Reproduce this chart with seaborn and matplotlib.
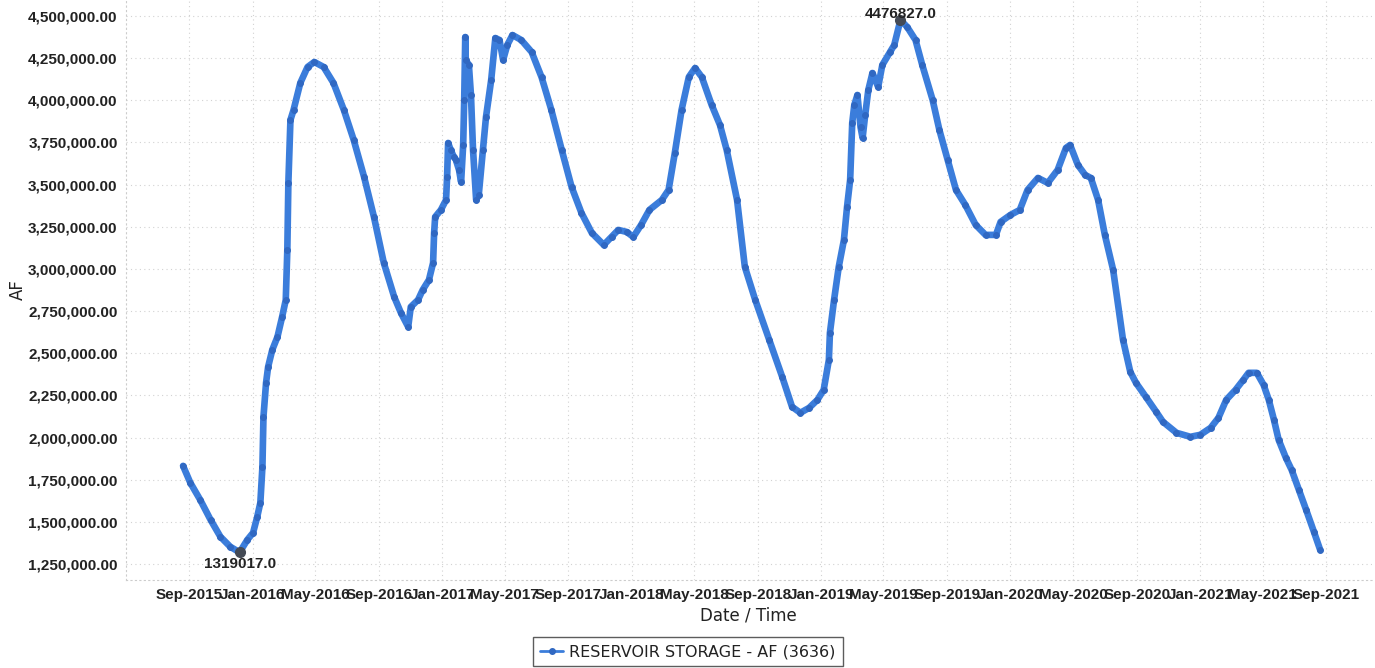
import matplotlib
matplotlib.use("Agg")
import matplotlib.pyplot as plt
import matplotlib.ticker as mticker
import matplotlib.transforms as mtransforms
from matplotlib.lines import Line2D
import seaborn as sns
import pandas as pd

# ---------------- data ----------------
dates = [
    "2015-08-20", "2015-09-03", "2015-09-22", "2015-10-12", "2015-10-31", "2015-11-19",
    "2015-12-07", "2015-12-22", "2016-01-02", "2016-01-10", "2016-01-16", "2016-01-20",
    "2016-01-22", "2016-01-27", "2016-01-31", "2016-02-08", "2016-02-18", "2016-02-27",
    "2016-03-05", "2016-03-08", "2016-03-10", "2016-03-14", "2016-03-20", "2016-04-02",
    "2016-04-16", "2016-04-29", "2016-05-17", "2016-06-05", "2016-06-25", "2016-07-14",
    "2016-08-03", "2016-08-22", "2016-09-10", "2016-09-30", "2016-10-13", "2016-10-27",
    "2016-11-01", "2016-11-15", "2016-11-24", "2016-12-06", "2016-12-14", "2016-12-16",
    "2016-12-18", "2016-12-29", "2017-01-08", "2017-01-10", "2017-01-12", "2017-01-17",
    "2017-01-23", "2017-01-27", "2017-02-02", "2017-02-06", "2017-02-10", "2017-02-12",
    "2017-02-14", "2017-02-15", "2017-02-21", "2017-02-25", "2017-03-01", "2017-03-07",
    "2017-03-12", "2017-03-20", "2017-03-26", "2017-04-05", "2017-04-13", "2017-04-21",
    "2017-04-28", "2017-05-06", "2017-05-16", "2017-06-02", "2017-06-22", "2017-07-11",
    "2017-07-30", "2017-08-19", "2017-09-07", "2017-09-26", "2017-10-16", "2017-11-08",
    "2017-11-23", "2017-12-06", "2017-12-22", "2018-01-04", "2018-01-19", "2018-02-04",
    "2018-02-28", "2018-03-13", "2018-03-25", "2018-04-07", "2018-04-21", "2018-05-03",
    "2018-05-16", "2018-06-04", "2018-06-20", "2018-07-03", "2018-07-23", "2018-08-07",
    "2018-08-27", "2018-09-23", "2018-10-18", "2018-11-06", "2018-11-22", "2018-12-09",
    "2018-12-25", "2019-01-06", "2019-01-16", "2019-01-18", "2019-01-26", "2019-02-04",
    "2019-02-14", "2019-02-20", "2019-02-26", "2019-03-02", "2019-03-06", "2019-03-12",
    "2019-03-18", "2019-03-22", "2019-03-27", "2019-04-02", "2019-04-10", "2019-04-21",
    "2019-04-29", "2019-05-14", "2019-05-22", "2019-06-03", "2019-06-16", "2019-07-02",
    "2019-07-15", "2019-08-04", "2019-08-17", "2019-09-02", "2019-09-18", "2019-10-06",
    "2019-10-26", "2019-11-14", "2019-12-04", "2019-12-13", "2020-01-01", "2020-01-19",
    "2020-02-03", "2020-02-23", "2020-03-13", "2020-04-01", "2020-04-17", "2020-04-25",
    "2020-05-10", "2020-05-24", "2020-06-04", "2020-06-18", "2020-07-01", "2020-07-17",
    "2020-08-05", "2020-08-19", "2020-08-30", "2020-09-18", "2020-10-08", "2020-10-21",
    "2020-11-16", "2020-12-13", "2021-01-01", "2021-01-21", "2021-02-05", "2021-02-20",
    "2021-03-10", "2021-03-25", "2021-04-04", "2021-04-20", "2021-05-03", "2021-05-13",
    "2021-05-23", "2021-06-01", "2021-06-15", "2021-06-26", "2021-07-10", "2021-07-24",
    "2021-08-08", "2021-08-20",
]
storage_af = [
    1832000, 1731600, 1630800, 1512300, 1411500, 1352200,
    1319017, 1393700, 1435200, 1530100, 1613100, 1826500,
    2122900, 2324400, 2419300, 2520000, 2597100, 2715700,
    2816400, 3112800, 3510000, 3883500, 3942800, 4102800,
    4197700, 4227300, 4197700, 4102800, 3942800, 3764900,
    3545600, 3308500, 3035800, 2834200, 2739400, 2656400,
    2775000, 2816400, 2875700, 2935000, 3035800, 3213600,
    3308500, 3350000, 3409200, 3545600, 3747100, 3705600,
    3664100, 3646400, 3587100, 3516000, 3735300, 4002000,
    4375500, 4239200, 4209500, 4031700, 3705600, 3409200,
    3438900, 3705600, 3901300, 4120600, 4369600, 4357700,
    4239200, 4328100, 4387400, 4357700, 4286600, 4138400,
    3942800, 3705600, 3486300, 3332200, 3213600, 3142500,
    3189900, 3231400, 3219600, 3189900, 3261000, 3350000,
    3409200, 3468500, 3687900, 3942800, 4138400, 4191700,
    4138400, 3972400, 3853800, 3705600, 3409200, 3012000,
    2816400, 2579300, 2360000, 2182200, 2146600, 2176200,
    2223600, 2282900, 2460800, 2620800, 2816400, 3012000,
    3172100, 3367800, 3527800, 3865700, 3972400, 4031700,
    3842000, 3776800, 3913100, 4061300, 4162100, 4079100,
    4209500, 4286600, 4328100, 4476827, 4434800, 4357700,
    4209500, 4002000, 3824200, 3646400, 3468500, 3379600,
    3261000, 3201800, 3201800, 3278800, 3320300, 3350000,
    3468500, 3539700, 3510000, 3587100, 3717500, 3735300,
    3616700, 3557400, 3539700, 3409200, 3201800, 2994300,
    2579300, 2389600, 2324400, 2241400, 2152500, 2093200,
    2028000, 2004300, 2016200, 2057700, 2116900, 2223600,
    2282900, 2342200, 2383700, 2383700, 2312600, 2223600,
    2105100, 1986500, 1879800, 1808700, 1690100, 1571600,
    1441200, 1334400,
]

x_tick_dates = [
    "2015-09-01", "2016-01-01", "2016-05-01", "2016-09-01", "2017-01-01", "2017-05-01",
    "2017-09-01", "2018-01-01", "2018-05-01", "2018-09-01", "2019-01-01", "2019-05-01",
    "2019-09-01", "2020-01-01", "2020-05-01", "2020-09-01", "2021-01-01", "2021-05-01",
    "2021-09-01",
]
x_tick_labels = [
    "Sep-2015", "Jan-2016", "May-2016", "Sep-2016", "Jan-2017", "May-2017",
    "Sep-2017", "Jan-2018", "May-2018", "Sep-2018", "Jan-2019", "May-2019",
    "Sep-2019", "Jan-2020", "May-2020", "Sep-2020", "Jan-2021", "May-2021",
    "Sep-2021",
]
y_ticks = [1250000, 1500000, 1750000, 2000000, 2250000, 2500000, 2750000,
           3000000, 3250000, 3500000, 3750000, 4000000, 4250000, 4500000]

min_date, min_value = "2015-12-07", 1319017
max_date, max_value = "2019-06-03", 4476827
series_label = "RESERVOIR STORAGE - AF (3636)"
x_label = "Date / Time"
y_label = "AF"

# ---------------- styling ----------------
sns.set_theme(style="white")
plt.rcParams["font.family"] = ["DejaVu Sans"]
TICK_FONT = ["Liberation Sans Narrow", "Liberation Sans", "DejaVu Sans"]

LINE_COLOR = "#3b7ddb"
DOT_COLOR = "#3068c2"

df = pd.DataFrame({"date": pd.to_datetime(dates), "storage": storage_af})

fig = plt.figure(figsize=(13.75, 6.68), dpi=100)
ax = fig.add_axes([126 / 1375, 1 - 580 / 668, (1372 - 126) / 1375, 580 / 668])

sns.lineplot(data=df, x="date", y="storage", ax=ax, color=LINE_COLOR,
             linewidth=4.8, marker="o", markersize=4.2,
             markerfacecolor=DOT_COLOR, markeredgecolor=DOT_COLOR,
             solid_capstyle="round", solid_joinstyle="round", legend=False)

ax.set_xlim(pd.Timestamp("2015-05-02"), pd.Timestamp("2021-11-28"))
ax.set_ylim(1155000, 4595000)

ax.set_xticks(pd.to_datetime(x_tick_dates))
ax.set_xticklabels(x_tick_labels, fontfamily=TICK_FONT, fontweight="bold",
                   fontsize=11, color="#222222")
shift = mtransforms.ScaledTranslation(-3 / 100, 0, fig.dpi_scale_trans)
for t in ax.get_xticklabels():
    t.set_transform(t.get_transform() + shift)
ax.set_yticks(y_ticks)
ax.yaxis.set_major_formatter(mticker.FuncFormatter(lambda v, p: f"{v:,.2f}"))
for t in ax.get_yticklabels():
    t.set_fontfamily(TICK_FONT)
    t.set_fontweight("bold")
    t.set_fontsize(11)
    t.set_color("#222222")
ax.tick_params(axis="both", length=0)
ax.tick_params(axis="y", pad=6)
ax.tick_params(axis="x", pad=6)

ax.grid(True, color="#d2d2d2", linestyle=(0, (1, 3)), linewidth=0.8)
for side in ["top", "right"]:
    ax.spines[side].set_visible(False)
for side in ["left", "bottom"]:
    ax.spines[side].set_color("#cccccc")
    ax.spines[side].set_linestyle((0, (1, 3)))
    ax.spines[side].set_linewidth(0.8)

ax.set_xlabel(x_label, fontsize=12, color="#222222")
ax.set_ylabel(y_label, fontsize=12, color="#222222")
ax.xaxis.set_label_coords((748 - 126) / (1372 - 126), -0.046)
ax.yaxis.set_label_coords(-(126 - 27) / (1372 - 126), (580 - 290) / 580)

# annotations for min and max
for d, v, dy, va in [(min_date, min_value, -3.5, "top"), (max_date, max_value, -0.5, "bottom")]:
    ax.plot([pd.Timestamp(d)], [v], marker="o", markersize=7, color="#444a55", zorder=5)
    ax.annotate(f"{v:.1f}", xy=(pd.Timestamp(d), v), xytext=(0, dy),
                textcoords="offset points", ha="center", va=va,
                fontfamily=TICK_FONT, fontweight="bold", fontsize=11,
                color="#222222", zorder=6)

handle = Line2D([], [], color=LINE_COLOR, linewidth=2, marker="o",
                markersize=4, markerfacecolor=DOT_COLOR, markeredgecolor=DOT_COLOR)
leg = fig.legend([handle], [series_label], loc="upper center",
                 bbox_to_anchor=(688 / 1375, 1 - 637 / 668), frameon=True,
                 fancybox=False, edgecolor="#333333", fontsize=11.5,
                 handlelength=1.4, handletextpad=0.4, borderpad=0.45,
                 borderaxespad=0)
leg.get_frame().set_linewidth(1.0)
for t in leg.get_texts():
    t.set_color("#222222")

fig.savefig("out.png", dpi=100)
